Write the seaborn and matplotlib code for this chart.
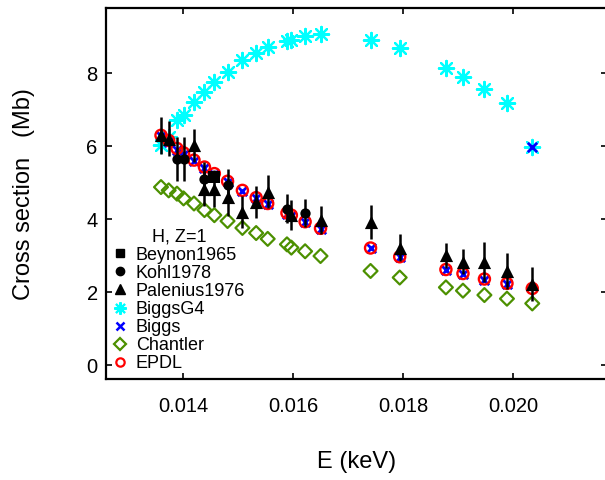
import numpy as np
import pandas as pd
import matplotlib
matplotlib.use("Agg")
import matplotlib.pyplot as plt
from matplotlib.lines import Line2D
import seaborn as sns

# Photon energies (keV) shared by the calculated cross sections
energy = [0.01360, 0.01374, 0.01389, 0.01401, 0.01420, 0.01439, 0.01457, 0.01481,
          0.01508, 0.01533, 0.01554, 0.01589, 0.01597, 0.01622, 0.01650,
          0.01741, 0.01794, 0.01878, 0.01909, 0.01948, 0.01989, 0.02035]

biggs_g4 = [6.03, 6.25, 6.71, 6.85, 7.21, 7.49, 7.76, 8.04, 8.36, 8.57, 8.72,
            8.88, 8.92, 9.01, 9.07, 8.92, 8.69, 8.15, 7.90, 7.56, 7.19, 5.98]
biggs = [6.27, 6.13, 5.91, 5.80, 5.60, 5.41, 5.23, 5.02, 4.77, 4.57, 4.42,
         4.15, 4.09, 3.91, 3.73, 3.20, 2.95, 2.61, 2.49, 2.34, 2.22, 5.98]
chantler = [4.88, 4.79, 4.70, 4.57, 4.43, 4.25, 4.11, 3.95, 3.76, 3.62, 3.46,
            3.31, 3.22, 3.12, 2.99, 2.58, 2.40, 2.13, 2.04, 1.92, 1.82, 1.69]
epdl = [6.30, 6.16, 5.94, 5.82, 5.62, 5.43, 5.25, 5.04, 4.79, 4.59, 4.43,
        4.17, 4.11, 3.93, 3.75, 3.21, 2.97, 2.62, 2.51, 2.36, 2.24, 2.10]

# Experimental data
beynon_e = [0.01457]
beynon_v = [5.16]

kohl_e = [0.01389, 0.01401, 0.01439, 0.01481, 0.01589, 0.01622]
kohl_v = [5.66, 5.66, 5.11, 4.93, 4.29, 4.17]
kohl_err = [0.60, 0.60, 0.45, 0.45, 0.40, 0.38]

palenius_e = [0.01360, 0.01374, 0.01420, 0.01439, 0.01457, 0.01481, 0.01508,
              0.01533, 0.01554, 0.01597, 0.01650, 0.01741, 0.01794, 0.01878,
              0.01909, 0.01948, 0.01989, 0.02035]
palenius_v = [6.30, 6.21, 6.03, 4.84, 4.84, 4.60, 4.20, 4.47, 4.75, 4.11, 3.97,
              3.93, 3.22, 3.01, 2.83, 2.83, 2.58, 2.22]
palenius_err = [0.50, 0.48, 0.45, 0.48, 0.50, 0.50, 0.43, 0.45, 0.45, 0.41, 0.38,
                0.47, 0.38, 0.34, 0.34, 0.55, 0.50, 0.46]

x_ticks = [0.014, 0.016, 0.018, 0.020]
x_tick_labels = ["0.014", "0.016", "0.018", "0.020"]
y_ticks = [0, 2, 4, 6, 8]

green = "#4c9000"
asterisk = (8, 2, 0)

sns.set_style("ticks")
plt.rcParams["font.family"] = ["Liberation Sans", "DejaVu Sans"]
plt.rcParams["text.color"] = "black"
plt.rcParams["axes.labelcolor"] = "black"
plt.rcParams["xtick.color"] = "black"
plt.rcParams["ytick.color"] = "black"

fig = plt.figure(figsize=(6.05, 4.8), dpi=100)
ax = fig.add_axes([0.1752, 0.2098, 0.8273, 0.7735])

calc = pd.DataFrame({"E": energy, "BiggsG4": biggs_g4, "Biggs": biggs,
                     "Chantler": chantler, "EPDL": epdl})

sns.scatterplot(data=calc, x="E", y="BiggsG4", marker=asterisk, s=120,
                color="#00ffff", linewidth=1.6, ax=ax, zorder=2)
sns.scatterplot(data=calc, x="E", y="Biggs", marker="x", s=45,
                color="#0000ff", linewidth=2.0, ax=ax, zorder=3)
sns.scatterplot(data=calc, x="E", y="Chantler", marker="D", s=50,
                facecolor="none", edgecolor=green, linewidth=1.6, ax=ax, zorder=3)
sns.scatterplot(data=calc, x="E", y="EPDL", marker="o", s=64,
                facecolor="none", edgecolor="#ff0000", linewidth=1.7, ax=ax, zorder=4)

ax.errorbar(kohl_e, kohl_v, yerr=kohl_err, fmt="none", ecolor="black",
            elinewidth=1.8, capsize=0, zorder=5)
ax.errorbar(palenius_e, palenius_v, yerr=palenius_err, fmt="none", ecolor="black",
            elinewidth=1.8, capsize=0, zorder=5)
sns.scatterplot(x=beynon_e, y=beynon_v, marker="s", s=64, color="black",
                linewidth=0, ax=ax, zorder=6)
sns.scatterplot(x=kohl_e, y=kohl_v, marker="o", s=55, color="black",
                linewidth=0, ax=ax, zorder=6)
sns.scatterplot(x=palenius_e, y=palenius_v, marker="^", s=90, color="black",
                linewidth=0, ax=ax, zorder=6)

ax.set_xlim(0.0126, 0.0217)
ax.set_ylim(-0.39, 9.79)
ax.set_xticks(x_ticks)
ax.set_xticklabels(x_tick_labels)
ax.set_yticks(y_ticks)
ax.tick_params(axis="both", direction="in", top=True, right=True,
               length=4, width=1.2, labelsize=14.5, colors="black")
ax.tick_params(axis="x", pad=13)
ax.tick_params(axis="y", pad=6)
for sp in ax.spines.values():
    sp.set_linewidth(1.6)
    sp.set_color("black")

ax.set_xlabel("E (keV)", fontsize=17, labelpad=25)
ax.set_ylabel("Cross section   (Mb)", fontsize=17, labelpad=37)

handles = [
    Line2D([], [], ls="none", marker="s", color="black", markersize=6),
    Line2D([], [], ls="none", marker="o", color="black", markersize=6),
    Line2D([], [], ls="none", marker="^", color="black", markersize=7),
    Line2D([], [], ls="none", marker=asterisk, color="#00ffff", markersize=9, mew=1.5),
    Line2D([], [], ls="none", marker="x", color="#0000ff", markersize=6, mew=1.8),
    Line2D([], [], ls="none", marker="D", mfc="none", mec=green, markersize=6, mew=1.6),
    Line2D([], [], ls="none", marker="o", mfc="none", mec="#ff0000", markersize=6, mew=1.6),
]
labels = ["Beynon1965", "Kohl1978", "Palenius1976", "BiggsG4", "Biggs", "Chantler", "EPDL"]
ax.legend(handles, labels, title="H, Z=1", loc="lower left",
          bbox_to_anchor=(0.0, 0.0), frameon=False, fontsize=13,
          title_fontsize=13, labelspacing=0.06, handlelength=0.8,
          handletextpad=0.45, borderaxespad=0.0)

fig.savefig("out.png", dpi=100)
